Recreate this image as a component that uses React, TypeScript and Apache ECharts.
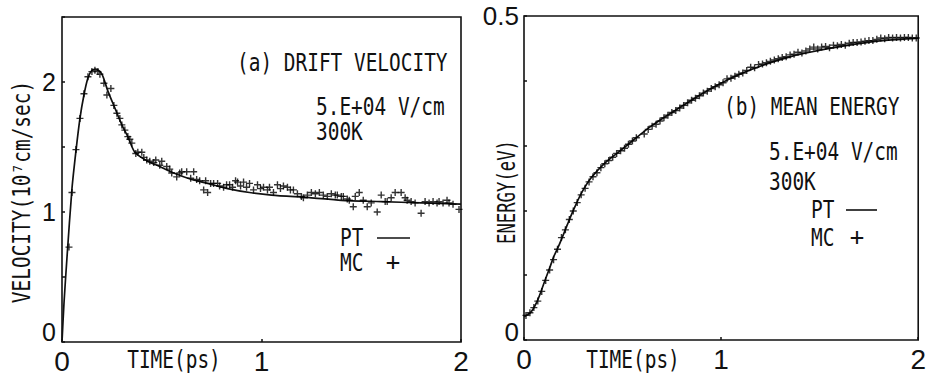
import React, { useEffect, useRef } from 'react';
import * as echarts from 'echarts';

// (a) drift velocity, PT curve: [time ps, velocity 1e7 cm/s]
const ptVelocity: [number, number][] = [
  [0, 0], [0.01, 0.3], [0.025, 0.65], [0.05, 1.18], [0.07, 1.47], [0.09, 1.72], [0.11, 1.9],
  [0.13, 2.03], [0.15, 2.09], [0.17, 2.1], [0.2, 2.06], [0.23, 1.93], [0.265, 1.8],
  [0.3, 1.67], [0.33, 1.58], [0.365, 1.46], [0.43, 1.39], [0.49, 1.35], [0.56, 1.3],
  [0.65, 1.25], [0.73, 1.22], [0.83, 1.18], [0.94, 1.15], [1.05, 1.13], [1.24, 1.11],
  [1.4, 1.09], [1.6, 1.08], [1.8, 1.07], [2.0, 1.06],
];

// (a) drift velocity, MC points
const mcVelocity: [number, number][] = [
  [0.035, 0.73], [0.05, 1.15], [0.07, 1.48], [0.09, 1.72], [0.11, 1.91], [0.13, 2.04], [0.15, 2.08],
  [0.165, 2.09], [0.18, 2.08], [0.19, 2.06], [0.21, 1.99], [0.225, 1.9], [0.245, 1.95], [0.26, 1.82],
  [0.275, 1.76], [0.29, 1.72], [0.3, 1.67], [0.315, 1.63], [0.33, 1.58], [0.34, 1.56], [0.35, 1.53],
  [0.37, 1.45], [0.38, 1.46], [0.4, 1.46], [0.41, 1.42], [0.425, 1.4], [0.44, 1.39], [0.46, 1.38],
  [0.47, 1.4], [0.49, 1.36], [0.5, 1.39], [0.525, 1.35], [0.54, 1.33], [0.55, 1.3], [0.575, 1.27],
  [0.59, 1.3], [0.6, 1.31], [0.625, 1.31], [0.645, 1.26], [0.66, 1.31], [0.675, 1.25], [0.69, 1.24],
  [0.71, 1.17], [0.72, 1.24], [0.73, 1.15], [0.745, 1.22], [0.76, 1.22], [0.78, 1.22], [0.79, 1.2],
  [0.81, 1.19], [0.825, 1.21], [0.84, 1.21], [0.855, 1.19], [0.87, 1.24], [0.88, 1.23], [0.895, 1.2],
  [0.91, 1.23], [0.925, 1.19], [0.94, 1.22], [0.96, 1.17], [0.98, 1.21], [0.995, 1.18], [1.01, 1.19],
  [1.03, 1.17], [1.04, 1.19], [1.06, 1.15], [1.08, 1.21], [1.095, 1.18], [1.11, 1.2], [1.13, 1.19],
  [1.145, 1.17], [1.16, 1.17], [1.18, 1.14], [1.2, 1.12], [1.21, 1.11], [1.23, 1.13], [1.25, 1.15],
  [1.27, 1.14], [1.29, 1.15], [1.31, 1.13], [1.33, 1.12], [1.35, 1.14], [1.37, 1.13], [1.38, 1.13],
  [1.4, 1.12], [1.41, 1.12], [1.43, 1.1], [1.44, 1.09], [1.46, 1.04], [1.47, 1.12], [1.49, 1.15],
  [1.51, 1.09], [1.53, 1.04], [1.55, 1.07], [1.58, 1.0], [1.6, 1.13], [1.62, 1.08], [1.63, 1.08],
  [1.65, 1.11], [1.67, 1.15], [1.7, 1.15], [1.72, 1.11], [1.73, 1.09], [1.75, 1.08], [1.77, 1.07],
  [1.8, 0.99], [1.82, 1.08], [1.84, 1.07], [1.86, 1.08], [1.88, 1.07], [1.89, 1.08], [1.91, 1.07],
  [1.93, 1.09], [1.94, 1.07], [1.96, 1.06], [1.99, 1.02],
];

// (b) mean energy, PT curve: [time ps, energy eV]
const ptEnergy: [number, number][] = [
  [0, 0.036], [0.035, 0.043], [0.07, 0.062], [0.11, 0.095], [0.13, 0.111], [0.15, 0.128],
  [0.18, 0.148], [0.22, 0.178], [0.25, 0.2], [0.29, 0.226], [0.34, 0.25], [0.41, 0.273],
  [0.48, 0.29], [0.565, 0.311], [0.645, 0.33], [0.745, 0.35], [0.85, 0.37], [0.95, 0.388],
  [1.05, 0.404], [1.15, 0.417], [1.25, 0.428], [1.35, 0.437], [1.45, 0.444], [1.55, 0.45],
  [1.69, 0.457], [1.82, 0.462], [2.0, 0.466],
];

// (b) mean energy, MC points
const mcEnergy: [number, number][] = [
  [0.01, 0.038], [0.03, 0.042], [0.05, 0.05], [0.07, 0.06], [0.09, 0.075], [0.11, 0.092], [0.13, 0.108],
  [0.15, 0.124], [0.17, 0.14], [0.19, 0.158], [0.21, 0.17], [0.23, 0.186], [0.25, 0.199], [0.27, 0.212],
  [0.29, 0.224], [0.31, 0.234], [0.33, 0.244], [0.35, 0.252], [0.37, 0.258], [0.39, 0.266], [0.41, 0.272],
  [0.43, 0.277], [0.45, 0.282], [0.47, 0.288], [0.49, 0.292], [0.51, 0.296], [0.53, 0.302], [0.55, 0.307],
  [0.57, 0.312], [0.61, 0.318], [0.63, 0.325], [0.65, 0.33], [0.67, 0.333], [0.69, 0.338], [0.71, 0.343],
  [0.73, 0.347], [0.75, 0.351], [0.77, 0.354], [0.79, 0.358], [0.81, 0.362], [0.83, 0.366], [0.85, 0.37],
  [0.87, 0.373], [0.89, 0.377], [0.91, 0.381], [0.93, 0.384], [0.95, 0.388], [0.97, 0.391], [0.99, 0.394],
  [1.01, 0.397], [1.03, 0.403], [1.05, 0.404], [1.07, 0.407], [1.09, 0.41], [1.11, 0.412], [1.13, 0.416],
  [1.15, 0.421], [1.17, 0.42], [1.19, 0.425], [1.21, 0.426], [1.23, 0.428], [1.25, 0.43], [1.27, 0.432],
  [1.29, 0.434], [1.31, 0.436], [1.33, 0.437], [1.35, 0.44], [1.37, 0.441], [1.39, 0.444], [1.41, 0.443],
  [1.43, 0.446], [1.45, 0.449], [1.47, 0.452], [1.49, 0.449], [1.51, 0.452], [1.53, 0.453], [1.55, 0.451],
  [1.57, 0.455], [1.59, 0.454], [1.61, 0.456], [1.63, 0.455], [1.65, 0.458], [1.67, 0.459], [1.69, 0.459],
  [1.71, 0.46], [1.73, 0.461], [1.75, 0.462], [1.77, 0.462], [1.79, 0.464], [1.81, 0.466], [1.83, 0.465],
  [1.85, 0.467], [1.87, 0.466], [1.89, 0.467], [1.91, 0.466], [1.93, 0.467], [1.95, 0.467], [1.97, 0.466],
  [1.99, 0.466],
];

const xTickLabels = [0, 1, 2];
const velTickLabels = [0, 1, 2];
const energyTickLabels = [0, 0.5];

const MONO = '"DejaVu Sans Mono", "Liberation Mono", monospace';
const SANS = '"Liberation Sans", Arial, sans-serif';
const PLUS = 'path://M4,0H6V4H10V6H6V10H4V6H0V4H4Z';

// plotter-like text: monospace, horizontally condensed
function txt(text: string, x: number, y: number, size = 24, align = 'left', rotation = 0, squeeze = 0.81) {
  return {
    type: 'text',
    x,
    y,
    rotation,
    scaleX: squeeze,
    silent: true,
    style: {
      text,
      fill: '#111',
      font: `${size}px ${MONO}`,
      textAlign: align,
      textVerticalAlign: 'middle',
    },
  };
}

function legendLine(x1: number, x2: number, y: number) {
  return {
    type: 'line',
    silent: true,
    shape: { x1, y1: y, x2, y2: y },
    style: { stroke: '#111', lineWidth: 1.6 },
  };
}

export default function App() {
  const ref = useRef<HTMLDivElement>(null);
  useEffect(() => {
    if (!ref.current) return;
    const chart = echarts.init(ref.current, null, { renderer: 'svg' });
    const tick = { show: true, inside: true, length: 3, lineStyle: { color: '#111', width: 1.5 } };
    const xAxisCommon = {
      type: 'value',
      min: 0,
      max: 2,
      interval: 1,
      axisLine: { show: false },
      axisTick: tick,
      splitLine: { show: false },
      axisLabel: {
        color: '#111',
        fontFamily: SANS,
        fontSize: 28,
        margin: 5,
        formatter: (v: number) => (xTickLabels.includes(v) ? String(v) : ''),
      },
    };
    const zeroRich = (shift: number, size: number) => ({
      z: { fontFamily: SANS, fontSize: size, color: '#111', padding: [0, 0, shift * 2, 0] },
    });
    chart.setOption({
      animation: false,
      backgroundColor: '#fff',
      grid: [
        { left: 62, top: 17, width: 399, height: 325, show: true, borderColor: '#111', borderWidth: 1.6, backgroundColor: 'transparent' },
        { left: 524, top: 16, width: 397, height: 324, show: true, borderColor: '#111', borderWidth: 1.6, backgroundColor: 'transparent' },
      ],
      xAxis: [
        { ...xAxisCommon, gridIndex: 0 },
        { ...xAxisCommon, gridIndex: 1 },
      ],
      yAxis: [
        {
          type: 'value',
          gridIndex: 0,
          min: 0,
          max: 2.5,
          interval: 0.5,
          axisLine: { show: false },
          axisTick: tick,
          splitLine: { show: false },
          axisLabel: {
            color: '#111',
            fontFamily: SANS,
            fontSize: 25,
            margin: 6,
            rich: zeroRich(10, 25),
            formatter: (v: number) => {
              if (!velTickLabels.includes(v)) return '';
              return v === 0 ? '{z|0}' : String(v);
            },
          },
        },
        {
          type: 'value',
          gridIndex: 1,
          min: 0,
          max: 0.5,
          interval: 0.1,
          axisLine: { show: false },
          axisTick: tick,
          splitLine: { show: false },
          axisLabel: {
            color: '#111',
            fontFamily: SANS,
            fontSize: 26,
            margin: 5,
            rich: zeroRich(8, 26),
            formatter: (v: number) => {
              const r = Math.round(v * 10) / 10;
              if (!energyTickLabels.includes(r)) return '';
              return r === 0 ? '{z|0}' : '0.5';
            },
          },
        },
      ],
      series: [
        {
          name: 'PT velocity',
          type: 'line',
          xAxisIndex: 0,
          yAxisIndex: 0,
          data: ptVelocity,
          smooth: 0.25,
          showSymbol: false,
          lineStyle: { color: '#111', width: 1.7 },
          z: 3,
        },
        {
          name: 'MC velocity',
          type: 'scatter',
          xAxisIndex: 0,
          yAxisIndex: 0,
          data: mcVelocity,
          symbol: PLUS,
          symbolSize: [7, 7],
          itemStyle: { color: '#000' },
          z: 4,
        },
        {
          name: 'PT energy',
          type: 'line',
          xAxisIndex: 1,
          yAxisIndex: 1,
          data: ptEnergy,
          smooth: 0.25,
          showSymbol: false,
          lineStyle: { color: '#111', width: 1.7 },
          z: 3,
        },
        {
          name: 'MC energy',
          type: 'scatter',
          xAxisIndex: 1,
          yAxisIndex: 1,
          data: mcEnergy,
          symbol: PLUS,
          symbolSize: [7, 7],
          itemStyle: { color: '#000' },
          z: 4,
        },
      ],
      graphic: [
        txt('(a) DRIFT VELOCITY', 237, 63),
        txt('5.E+04 V/cm', 316, 107),
        txt('300K', 316, 132),
        txt('PT', 340, 238),
        legendLine(377, 410, 238),
        txt('MC', 340, 263),
        txt('+', 393, 262, 24, 'center', 0, 1),
        txt('TIME(ps)', 174, 360, 24, 'center'),
        txt('VELOCITY(10⁷cm/sec)', 22, 192, 24, 'center', Math.PI / 2),
        txt('(b) MEAN ENERGY', 724, 107),
        txt('5.E+04 V/cm', 769, 152),
        txt('300K', 769, 182),
        txt('PT', 811, 210),
        legendLine(846, 877, 210),
        txt('MC', 811, 238),
        txt('+', 857, 237, 24, 'center', 0, 1),
        txt('TIME(ps)', 633, 360, 24, 'center'),
        txt('ENERGY(eV)', 507, 192, 24, 'center', Math.PI / 2, 0.72),
      ],
    });
    return () => chart.dispose();
  }, []);
  return <div ref={ref} style={{ position: 'fixed', left: 0, top: 0, width: 929, height: 377 }} />;
}
